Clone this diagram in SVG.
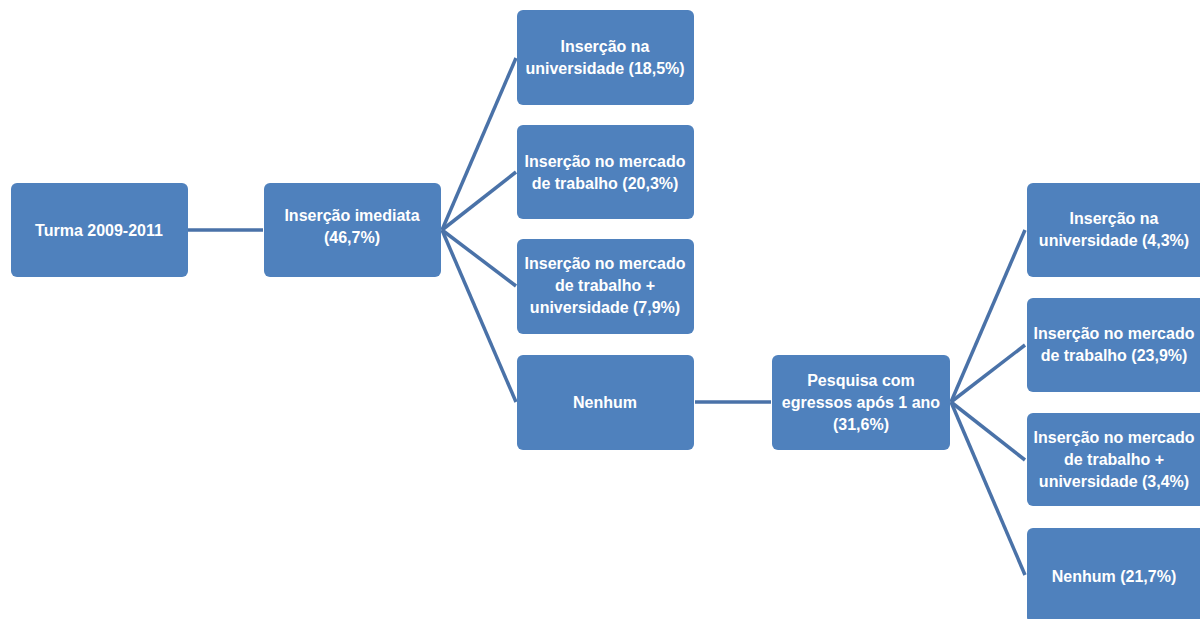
<svg xmlns="http://www.w3.org/2000/svg" width="1200" height="619" viewBox="0 0 1200 619">
  <style>
    .box { fill: #4F81BD; }
    .lbl { fill: #FFFFFF; font-family: "Liberation Sans", Arial, sans-serif; font-weight: bold; font-size: 16px; text-anchor: middle; }
    .link { stroke: #4A72A8; stroke-width: 3.5; fill: none; stroke-linecap: butt; }
  </style>
  <rect width="1200" height="619" fill="#FFFFFF"/>

  <!-- connectors -->
  <g id="connectors">
    <line class="link" x1="188" y1="230" x2="263" y2="230"/>
    <line class="link" x1="442" y1="230" x2="516" y2="58"/>
    <line class="link" x1="442" y1="230" x2="516" y2="172"/>
    <line class="link" x1="442" y1="230" x2="516" y2="286"/>
    <line class="link" x1="442" y1="230" x2="516" y2="402"/>
    <line class="link" x1="695" y1="402" x2="771" y2="402"/>
    <line class="link" x1="951" y1="402" x2="1025" y2="230"/>
    <line class="link" x1="951" y1="402" x2="1025" y2="345"/>
    <line class="link" x1="951" y1="402" x2="1025" y2="460"/>
    <line class="link" x1="951" y1="402" x2="1025" y2="575"/>
  </g>

  <g id="turma">
    <rect class="box" x="11" y="183" width="177" height="94" rx="6"/>
    <text class="lbl" x="99" y="236">Turma 2009-2011</text>
  </g>

  <g id="insercao-imediata">
    <rect class="box" x="264" y="183" width="177" height="94" rx="6"/>
    <text class="lbl" x="352" y="221">Inserção imediata</text>
    <text class="lbl" x="352" y="243">(46,7%)</text>
  </g>

  <g id="univ-1">
    <rect class="box" x="517" y="10" width="177" height="95" rx="6"/>
    <text class="lbl" x="605" y="52">Inserção na</text>
    <text class="lbl" x="605" y="74">universidade (18,5%)</text>
  </g>

  <g id="mercado-1">
    <rect class="box" x="517" y="125" width="177" height="94" rx="6"/>
    <text class="lbl" x="605" y="167">Inserção no mercado</text>
    <text class="lbl" x="605" y="189">de trabalho (20,3%)</text>
  </g>

  <g id="mercado-univ-1">
    <rect class="box" x="517" y="239" width="177" height="95" rx="6"/>
    <text class="lbl" x="605" y="269">Inserção no mercado</text>
    <text class="lbl" x="605" y="291">de trabalho +</text>
    <text class="lbl" x="605" y="313">universidade (7,9%)</text>
  </g>

  <g id="nenhum-1">
    <rect class="box" x="517" y="355" width="177" height="95" rx="6"/>
    <text class="lbl" x="605" y="408">Nenhum</text>
  </g>

  <g id="pesquisa">
    <rect class="box" x="772" y="355" width="178" height="95" rx="6"/>
    <text class="lbl" x="861" y="386">Pesquisa com</text>
    <text class="lbl" x="861" y="408">egressos  após 1 ano</text>
    <text class="lbl" x="861" y="430">(31,6%)</text>
  </g>

  <g id="univ-2">
    <rect class="box" x="1027" y="183" width="178" height="94" rx="6"/>
    <text class="lbl" x="1114" y="224">Inserção na</text>
    <text class="lbl" x="1114" y="246">universidade (4,3%)</text>
  </g>

  <g id="mercado-2">
    <rect class="box" x="1027" y="298" width="178" height="94" rx="6"/>
    <text class="lbl" x="1114" y="339">Inserção no mercado</text>
    <text class="lbl" x="1114" y="361">de trabalho (23,9%)</text>
  </g>

  <g id="mercado-univ-2">
    <rect class="box" x="1027" y="413" width="178" height="93" rx="6"/>
    <text class="lbl" x="1114" y="443">Inserção no mercado</text>
    <text class="lbl" x="1114" y="465">de trabalho +</text>
    <text class="lbl" x="1114" y="487">universidade (3,4%)</text>
  </g>

  <g id="nenhum-2">
    <rect class="box" x="1027" y="528" width="178" height="95" rx="6"/>
    <text class="lbl" x="1114" y="582">Nenhum (21,7%)</text>
  </g>
</svg>
